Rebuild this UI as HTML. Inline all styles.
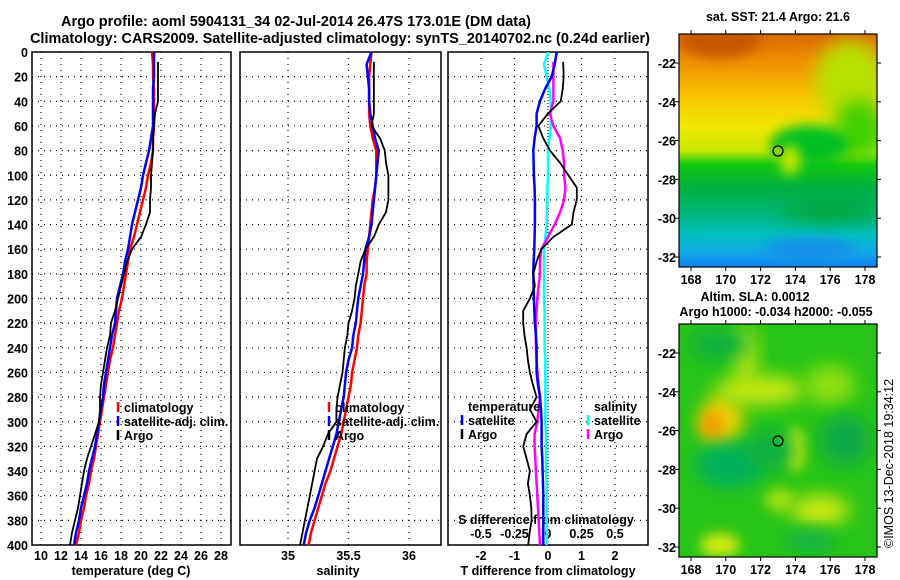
<!DOCTYPE html>
<html><head><meta charset="utf-8"><style>
body{margin:0;background:#fff}
svg{display:block;font-family:"Liberation Sans",sans-serif}
.t{font-weight:bold;font-size:12.5px}
.ti{font-weight:bold;font-size:14.5px}
</style></head><body>
<svg id="s" width="900" height="580" viewBox="0 0 900 580">
<defs>
<filter id="bl" x="-50%" y="-50%" width="200%" height="200%"><feGaussianBlur stdDeviation="9"/></filter>
<filter id="bl2" x="-50%" y="-50%" width="200%" height="200%"><feGaussianBlur stdDeviation="6"/></filter>
<linearGradient id="sstg" x1="0" y1="0" x2="0" y2="1">
<stop offset="0" stop-color="#d86800"/><stop offset="0.12" stop-color="#f09000"/><stop offset="0.28" stop-color="#f8c800"/>
<stop offset="0.4" stop-color="#f0e800"/><stop offset="0.5" stop-color="#c8e800"/><stop offset="0.56" stop-color="#10c810"/>
<stop offset="0.66" stop-color="#00b040"/><stop offset="0.78" stop-color="#00b880"/><stop offset="0.86" stop-color="#00c0c0"/>
<stop offset="0.94" stop-color="#10a8e8"/><stop offset="1" stop-color="#1080f0"/></linearGradient>
<clipPath id="c1"><rect x="679" y="34" width="198" height="233"/></clipPath>
<clipPath id="c2"><rect x="679" y="324" width="198" height="233"/></clipPath>
</defs>
<text class="ti" x="61" y="26" textLength="470" lengthAdjust="spacingAndGlyphs">Argo profile: aoml 5904131_34 02-Jul-2014 26.47S 173.01E (DM data)</text>
<text class="ti" x="30" y="43" textLength="620" lengthAdjust="spacingAndGlyphs">Climatology: CARS2009. Satellite-adjusted climatology: synTS_20140702.nc (0.24d earlier)</text>
<g id="g"></g>
<g>
<g clip-path="url(#c1)">
<rect x="679" y="34" width="198" height="233" fill="url(#sstg)"/>
<ellipse cx="720" cy="40" rx="40" ry="18" fill="#c85800" filter="url(#bl2)"/>
<ellipse cx="850" cy="80" rx="35" ry="40" fill="#b8e000" filter="url(#bl)"/>
<ellipse cx="860" cy="130" rx="25" ry="30" fill="#40d000" filter="url(#bl)"/>
<ellipse cx="810" cy="145" rx="40" ry="20" fill="#00c020" filter="url(#bl2)"/>
<ellipse cx="790" cy="160" rx="10" ry="15" fill="#c8e800" filter="url(#bl2)"/>
<ellipse cx="830" cy="210" rx="50" ry="12" fill="#00a840" filter="url(#bl)"/>
<ellipse cx="810" cy="250" rx="45" ry="12" fill="#1890e8" filter="url(#bl2)"/>
</g>
<rect x="679" y="34" width="198" height="233" fill="none" stroke="#000" stroke-width="1.2"/>
<circle cx="778" cy="151" r="5" fill="#80d020" stroke="#000" stroke-width="1.2"/>
<text class="t" x="778" y="21" text-anchor="middle">sat. SST: 21.4 Argo: 21.6</text>
</g>
<g>
<g clip-path="url(#c2)">
<rect x="679" y="324" width="198" height="233" fill="#28c418"/>
<ellipse cx="722" cy="420" rx="22" ry="25" fill="#f0d000" filter="url(#bl)"/>
<ellipse cx="712" cy="425" rx="12" ry="14" fill="#f0a000" filter="url(#bl2)"/>
<ellipse cx="760" cy="390" rx="45" ry="15" fill="#c8e810" filter="url(#bl)"/>
<ellipse cx="745" cy="355" rx="12" ry="28" fill="#c8e810" filter="url(#bl)"/>
<ellipse cx="830" cy="385" rx="25" ry="20" fill="#90e010" filter="url(#bl)"/>
<ellipse cx="795" cy="450" rx="10" ry="22" fill="#c8e810" filter="url(#bl2)"/>
<ellipse cx="730" cy="465" rx="35" ry="22" fill="#00b060" filter="url(#bl)"/>
<ellipse cx="770" cy="450" rx="25" ry="20" fill="#10b040" filter="url(#bl)"/>
<ellipse cx="845" cy="440" rx="25" ry="25" fill="#10a848" filter="url(#bl)"/>
<ellipse cx="720" cy="345" rx="30" ry="15" fill="#10b040" filter="url(#bl)"/>
<ellipse cx="820" cy="510" rx="30" ry="15" fill="#d0e810" filter="url(#bl)"/>
<ellipse cx="780" cy="500" rx="15" ry="12" fill="#a0e010" filter="url(#bl2)"/>
<ellipse cx="720" cy="545" rx="20" ry="12" fill="#d0e810" filter="url(#bl2)"/>
<ellipse cx="810" cy="540" rx="25" ry="10" fill="#10b050" filter="url(#bl)"/>
</g>
<rect x="679" y="324" width="198" height="233" fill="none" stroke="#000" stroke-width="1.2"/>
<circle cx="778" cy="441" r="5" fill="none" stroke="#000" stroke-width="1.2"/>
<text class="t" x="755" y="301" text-anchor="middle">Altim. SLA: 0.0012</text>
<text class="t" x="776" y="316" text-anchor="middle">Argo h1000: -0.034 h2000: -0.055</text>
</g>
<text x="893" y="548" transform="rotate(-90 893 548)" font-size="12.5">©IMOS 13-Dec-2018 19:34:12</text>
</svg>
<script>
const depths=[0,10,20,30,40,50,60,70,80,90,100,110,120,130,140,150,160,170,180,190,200,210,220,230,240,250,260,270,280,290,300,310,320,330,340,350,360,370,380,390,400];
const clim_temp=[21.1,21.2,21.2,21.3,21.3,21.3,21.3,21.2,21.2,21.0,20.7,20.5,20.2,19.9,19.6,19.3,18.9,18.7,18.5,18.3,18.1,17.8,17.6,17.4,17.2,16.9,16.7,16.5,16.3,16.1,15.9,15.7,15.5,15.3,15.0,14.8,14.5,14.3,14.0,13.8,13.5];
const sat_temp=[21.3,21.3,21.3,21.2,21.2,21.2,21.2,21.0,20.8,20.5,20.2,20.0,19.7,19.4,19.1,18.9,18.7,18.4,18.2,17.9,17.6,17.5,17.4,17.1,16.9,16.7,16.5,16.3,16.2,16.0,15.8,15.6,15.4,15.1,14.8,14.6,14.3,14.0,13.8,13.5,13.3];
const argo_depths=[8,20,30,40,50,60,70,80,90,100,110,120,130,140,150,160,170,180,190,200,210,220,230,240,250,260,270,280,290,300,310,320,330,340,350,360,370,380,390,400];
const argo_temp=[21.7,21.7,21.7,21.7,21.4,21.3,21.2,21.2,21.1,21.0,21.0,20.9,20.9,20.5,20.0,19.1,18.6,18.3,18.0,17.7,17.4,17.0,16.9,16.6,16.4,16.2,16.0,15.9,15.9,15.8,15.4,15.0,14.6,14.3,14.1,13.9,13.7,13.4,13.1,12.9];
const clim_sal=[35.69,35.68,35.67,35.67,35.67,35.67,35.68,35.70,35.73,35.73,35.73,35.72,35.70,35.69,35.68,35.67,35.66,35.65,35.65,35.63,35.62,35.61,35.60,35.58,35.57,35.55,35.53,35.52,35.50,35.48,35.46,35.44,35.41,35.38,35.35,35.31,35.28,35.25,35.22,35.19,35.17];
const sat_sal=[35.69,35.65,35.66,35.67,35.67,35.68,35.70,35.72,35.75,35.74,35.73,35.72,35.71,35.70,35.69,35.67,35.64,35.63,35.62,35.60,35.58,35.57,35.56,35.54,35.53,35.50,35.48,35.47,35.46,35.44,35.42,35.40,35.37,35.34,35.31,35.28,35.25,35.22,35.18,35.15,35.13];
const argo_sal=[35.71,35.71,35.71,35.71,35.71,35.69,35.76,35.80,35.81,35.83,35.83,35.83,35.81,35.75,35.71,35.64,35.60,35.58,35.56,35.55,35.53,35.50,35.49,35.47,35.46,35.45,35.43,35.41,35.40,35.40,35.33,35.29,35.24,35.22,35.20,35.18,35.16,35.14,35.12,35.10];
const tdiff_sat=[0.26,0.2,0.11,-0.09,-0.24,-0.34,-0.34,-0.4,-0.44,-0.43,-0.42,-0.4,-0.39,-0.39,-0.39,-0.4,-0.41,-0.43,-0.44,-0.43,-0.42,-0.41,-0.39,-0.36,-0.34,-0.34,-0.34,-0.3,-0.24,-0.21,-0.19,-0.19,-0.19,-0.17,-0.16,-0.15,-0.14,-0.14,-0.14,-0.14,-0.14];
const tdiff_argo=[0.45,0.47,0.44,0.38,0,-0.29,-0.14,0.06,0.36,0.61,0.86,0.86,0.76,0.71,0.16,-0.2,-0.34,-0.44,-0.39,-0.54,-0.74,-0.74,-0.7,-0.64,-0.6,-0.54,-0.45,-0.34,-0.54,-0.34,-0.64,-0.74,-0.64,-0.54,-0.6,-0.54,-0.5,-0.49,-0.55,-0.59];
const sdiff_sat=[0.0,-0.03,-0.01,0.01,0.02,0.02,0.02,0.01,0.0,0.0,0.0,-0.005,-0.005,-0.01,-0.01,-0.02,-0.03,-0.03,-0.03,-0.03,-0.03,-0.025,-0.025,-0.025,-0.025,-0.02,-0.02,-0.02,-0.02,-0.02,-0.02,-0.015,-0.015,-0.015,-0.015,-0.01,-0.01,-0.01,-0.01,-0.01,-0.01];
const sdiff_argo=[0.04,0.04,0.04,0.04,0.015,0.04,0.09,0.11,0.12,0.12,0.13,0.12,0.09,0.05,0.0,-0.05,-0.06,-0.06,-0.07,-0.08,-0.085,-0.09,-0.09,-0.09,-0.085,-0.08,-0.07,-0.06,-0.07,-0.08,-0.1,-0.1,-0.095,-0.09,-0.085,-0.08,-0.075,-0.07,-0.065,-0.06];
const temp_ticks=[10,12,14,16,18,20,22,24,26,28];
const sal_ticks=[35,35.5,36];
const tdiff_ticks=[-2,-1,0,1,2];
const sdiff_ticks=[-0.5,-0.25,0,0.25,0.5];
const depth_ticks=[0,20,40,60,80,100,120,140,160,180,200,220,240,260,280,300,320,340,360,380,400];
const lon_ticks=[168,170,172,174,176,178];
const lat_ticks=[-22,-24,-26,-28,-30,-32];

const NS='http://www.w3.org/2000/svg';
const G=document.getElementById('g');
function mk(tag,at,parent){const e=document.createElementNS(NS,tag);for(const k in at)e.setAttribute(k,at[k]);(parent||G).appendChild(e);return e;}
function tx(s,x,y,anchor,cls,name,parent){const e=mk('text',{x:x,y:y,'text-anchor':anchor,'class':cls},parent);e.textContent=s;


return e;}
const Y=d=>52+d*1.2325;
const xT=v=>41+(v-10)*10;
const xS=v=>288+(v-35)*121;
const xTd=v=>548+v*33.5;
const xSd=v=>548+v*134;
const P=[{x0:32,x1:231,n:'temperature-panel'},{x0:240,x1:441,n:'salinity-panel'},{x0:448,x1:648,n:'difference-panel'}];
const grids=[temp_ticks.map(xT),sal_ticks.map(xS),tdiff_ticks.map(xTd)];
P.forEach((p,i)=>{
 const g=mk('g',{});
 
 
 depth_ticks.forEach(d=>{if(d>0&&d<400)mk('line',{x1:p.x0,x2:p.x1,y1:Y(d),y2:Y(d),stroke:'#000','stroke-dasharray':'1 5','stroke-width':1.2},g);});
 grids[i].forEach(x=>mk('line',{x1:x,x2:x,y1:Y(0),y2:Y(400),stroke:'#000','stroke-dasharray':'1 5','stroke-width':1.2},g));
 mk('rect',{x:p.x0,y:Y(0),width:p.x1-p.x0,height:Y(400)-Y(0),fill:'none',stroke:'#000','stroke-width':1.5},g);
});
const d2=mk('line',{x1:xSd(0),x2:xSd(0),y1:Y(0),y2:Y(400),stroke:'#000','stroke-dasharray':'1 2','stroke-width':1});


depth_ticks.forEach(d=>tx(String(d),28,Y(d)+5,'end','t','depth-tick-label'));
temp_ticks.forEach(v=>tx(String(v),xT(v),560,'middle','t','temp-tick-label'));
sal_ticks.forEach(v=>tx(String(v),xS(v),560,'middle','t','salinity-tick-label'));
tdiff_ticks.forEach(v=>tx(String(v),xTd(v),560,'middle','t','tdiff-tick-label'));
sdiff_ticks.forEach(v=>tx(String(v),xSd(v),538,'middle','t','sdiff-tick-label'));
tx('temperature (deg C)',131,575,'middle','t','temp-axis-title');
tx('salinity',338,575,'middle','t','salinity-axis-title');
tx('T difference from climatology',548,575,'middle','t','tdiff-axis-title');
tx('S difference from climatology',546,524,'middle','t','sdiff-axis-title');
function line(xs,ds,fx,col,w,name){const pts=xs.map((v,i)=>fx(v).toFixed(1)+','+Y(ds[i]).toFixed(1)).join(' ');
const e=mk('polyline',{points:pts,fill:'none',stroke:col,'stroke-width':w});

}
line(clim_temp,depths,xT,'#f00',2.5,'climatology-temp-line');
line(sat_temp,depths,xT,'#00f',2.5,'satellite-temp-line');
line(argo_temp,argo_depths,xT,'#000',1.8,'argo-temp-line');
line(clim_sal,depths,xS,'#f00',2.5,'climatology-sal-line');
line(sat_sal,depths,xS,'#00f',2.5,'satellite-sal-line');
line(argo_sal,argo_depths,xS,'#000',1.8,'argo-sal-line');
line(sdiff_sat,depths,xSd,'#0ff',2.5,'sdiff-satellite-line');
line(sdiff_argo,argo_depths,xSd,'#f0f',2.5,'sdiff-argo-line');
line(tdiff_sat,depths,xTd,'#00f',2.5,'tdiff-satellite-line');
line(tdiff_argo,argo_depths,xTd,'#000',1.8,'tdiff-argo-line');
function leg(x,y,col,label){mk('line',{x1:x,x2:x,y1:y-10,y2:y,stroke:col,'stroke-width':2.5});tx(label,x+6,y,'start','t','legend-entry');}
[[118,'#f00','climatology'],[118,'#00f','satellite-adj. clim.'],[118,'#000','Argo']].forEach((l,i)=>leg(l[0],412+i*14,l[1],l[2]));
[[329,'#f00','climatology'],[329,'#00f','satellite-adj. clim.'],[329,'#000','Argo']].forEach((l,i)=>leg(l[0],412+i*14,l[1],l[2]));
tx('temperature',468,411,'start','t','legend-heading-temp');
leg(462,425,'#00f','satellite');leg(462,439,'#000','Argo');
tx('salinity',594,411,'start','t','legend-heading-salinity');
leg(588,425,'#0ff','satellite');leg(588,439,'#f0f','Argo');
const xL=v=>691+(v-168)*17.4;
[[34,267,63],[324,557,353]].forEach((m,k)=>{
 const yL=v=>m[2]+(-22-v)*19.4;
 lon_ticks.forEach(v=>{mk('line',{x1:xL(v),x2:xL(v),y1:m[0],y2:m[0]-4,stroke:'#000'});mk('line',{x1:xL(v),x2:xL(v),y1:m[1],y2:m[1]+4,stroke:'#000'});
  tx(String(v),xL(v),m[1]+17,'middle','t','lon-tick-label');});
 lat_ticks.forEach(v=>{mk('line',{x1:675,x2:679,y1:yL(v),y2:yL(v),stroke:'#000'});mk('line',{x1:877,x2:881,y1:yL(v),y2:yL(v),stroke:'#000'});
  tx(String(v),676,yL(v)+5,'end','t','lat-tick-label');});
});
</script>
</body></html>
